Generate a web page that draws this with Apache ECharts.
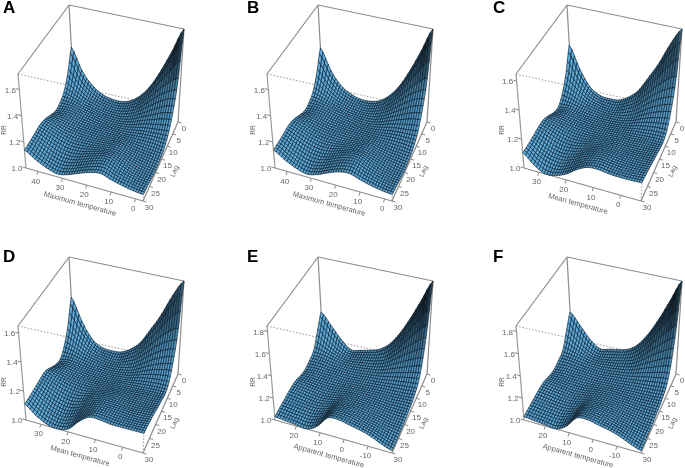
<!DOCTYPE html>
<html><head><meta charset="utf-8">
<style>html,body{margin:0;background:#fff}#c{width:685px;height:468px;filter:blur(0.45px)}</style>
<script src="https://cdn.jsdelivr.net/npm/echarts@6/dist/echarts.min.js"></script>
</head><body><div id="c"></div>
<script>
// Surface heights: one row per lag (0,3,...,30), columns from hottest to coldest edge.
const lags=[0,3,6,9,12,15,18,21,24,27,30];
const lagTicks=[0,5,10,15,20,25,30];
const rrA=[
[1.375,1.20,1.105,1.055,1.037,1.038,1.065,1.125,1.22,1.36,1.53,1.72],
[1.23,1.14,1.08,1.05,1.035,1.03,1.05,1.09,1.16,1.24,1.31,1.36],
[1.13,1.10,1.07,1.05,1.035,1.03,1.035,1.06,1.10,1.14,1.18,1.20],
[1.09,1.09,1.075,1.06,1.045,1.035,1.035,1.045,1.065,1.08,1.09,1.10],
[1.08,1.09,1.08,1.065,1.055,1.05,1.045,1.045,1.05,1.055,1.055,1.05],
[1.105,1.10,1.085,1.07,1.065,1.06,1.06,1.06,1.05,1.04,1.035,1.03],
[1.135,1.115,1.09,1.075,1.07,1.07,1.075,1.08,1.06,1.04,1.03,1.02],
[1.15,1.12,1.09,1.07,1.07,1.08,1.09,1.095,1.075,1.05,1.03,1.02],
[1.145,1.11,1.075,1.055,1.06,1.085,1.11,1.12,1.09,1.06,1.04,1.03],
[1.14,1.095,1.055,1.035,1.05,1.08,1.11,1.125,1.095,1.07,1.05,1.04],
[1.137,1.085,1.045,1.022,1.04,1.072,1.10,1.115,1.09,1.07,1.055,1.047]];
const rrB=[
[1.37,1.20,1.10,1.055,1.035,1.04,1.065,1.125,1.22,1.36,1.53,1.72],
[1.23,1.14,1.08,1.05,1.035,1.03,1.05,1.09,1.16,1.24,1.31,1.36],
[1.13,1.10,1.07,1.05,1.035,1.03,1.035,1.06,1.10,1.14,1.18,1.20],
[1.09,1.09,1.075,1.06,1.045,1.035,1.035,1.045,1.065,1.08,1.09,1.10],
[1.08,1.09,1.08,1.065,1.055,1.05,1.045,1.045,1.05,1.055,1.055,1.05],
[1.105,1.10,1.085,1.07,1.065,1.06,1.06,1.06,1.05,1.04,1.035,1.03],
[1.135,1.115,1.09,1.075,1.07,1.07,1.075,1.08,1.06,1.04,1.03,1.02],
[1.15,1.12,1.09,1.07,1.07,1.085,1.095,1.095,1.075,1.05,1.03,1.02],
[1.145,1.11,1.075,1.055,1.06,1.09,1.115,1.12,1.09,1.06,1.04,1.03],
[1.14,1.095,1.055,1.035,1.05,1.085,1.115,1.125,1.095,1.07,1.05,1.04],
[1.137,1.085,1.045,1.022,1.04,1.075,1.105,1.115,1.09,1.07,1.055,1.047]];
const rrC=[
[1.354,1.19,1.08,1.04,1.035,1.045,1.085,1.15,1.26,1.38,1.53,1.65],
[1.20,1.13,1.07,1.04,1.03,1.03,1.06,1.10,1.17,1.24,1.30,1.34],
[1.10,1.08,1.055,1.04,1.03,1.03,1.04,1.06,1.10,1.14,1.17,1.19],
[1.05,1.06,1.05,1.04,1.035,1.035,1.04,1.05,1.07,1.085,1.095,1.10],
[1.06,1.07,1.06,1.05,1.045,1.045,1.05,1.055,1.06,1.065,1.07,1.07],
[1.09,1.085,1.07,1.06,1.055,1.055,1.06,1.065,1.065,1.07,1.07,1.075],
[1.115,1.095,1.075,1.06,1.06,1.07,1.075,1.08,1.075,1.075,1.08,1.085],
[1.117,1.09,1.06,1.05,1.06,1.08,1.095,1.095,1.09,1.09,1.09,1.095],
[1.11,1.07,1.04,1.035,1.055,1.09,1.11,1.115,1.105,1.10,1.10,1.105],
[1.105,1.055,1.025,1.02,1.05,1.09,1.12,1.125,1.115,1.11,1.11,1.115],
[1.105,1.04,1.0,1.01,1.04,1.09,1.125,1.13,1.12,1.117,1.117,1.12]];
const rrD=[
[1.354,1.19,1.08,1.04,1.035,1.045,1.085,1.15,1.26,1.38,1.53,1.65],
[1.20,1.13,1.07,1.04,1.03,1.03,1.06,1.10,1.17,1.24,1.30,1.34],
[1.10,1.08,1.055,1.04,1.03,1.03,1.04,1.06,1.10,1.14,1.17,1.19],
[1.05,1.06,1.05,1.04,1.035,1.035,1.04,1.05,1.07,1.085,1.095,1.10],
[1.06,1.07,1.06,1.05,1.045,1.045,1.05,1.055,1.06,1.065,1.07,1.07],
[1.09,1.085,1.07,1.06,1.055,1.06,1.065,1.07,1.07,1.075,1.075,1.08],
[1.12,1.095,1.075,1.06,1.06,1.075,1.085,1.09,1.085,1.085,1.085,1.09],
[1.12,1.09,1.06,1.045,1.055,1.09,1.105,1.105,1.10,1.095,1.10,1.105],
[1.115,1.075,1.04,1.025,1.045,1.09,1.12,1.12,1.115,1.11,1.11,1.115],
[1.11,1.06,1.025,1.01,1.035,1.09,1.13,1.135,1.125,1.12,1.12,1.125],
[1.11,1.05,1.01,1.0,1.02,1.09,1.14,1.14,1.13,1.13,1.13,1.13]];
const rrE=[
[1.32,1.21,1.10,1.03,1.05,1.075,1.11,1.18,1.30,1.46,1.65,1.85],
[1.20,1.12,1.06,1.03,1.04,1.06,1.08,1.12,1.20,1.30,1.39,1.47],
[1.08,1.07,1.05,1.035,1.035,1.045,1.06,1.08,1.12,1.16,1.20,1.23],
[1.05,1.05,1.04,1.035,1.03,1.035,1.045,1.055,1.07,1.085,1.10,1.11],
[1.03,1.04,1.035,1.035,1.03,1.035,1.04,1.045,1.05,1.055,1.06,1.07],
[1.04,1.04,1.035,1.03,1.035,1.045,1.05,1.05,1.05,1.045,1.05,1.05],
[1.06,1.05,1.04,1.03,1.04,1.06,1.065,1.06,1.055,1.045,1.04,1.04],
[1.06,1.05,1.035,1.03,1.045,1.08,1.085,1.08,1.065,1.05,1.035,1.03],
[1.05,1.04,1.03,1.025,1.05,1.105,1.115,1.10,1.08,1.06,1.04,1.025],
[1.04,1.03,1.02,1.015,1.055,1.13,1.14,1.125,1.10,1.075,1.045,1.02],
[1.03,1.02,1.01,1.0,1.05,1.15,1.16,1.14,1.12,1.09,1.05,1.02]];
const rrF=[
[1.32,1.21,1.10,1.04,1.06,1.08,1.11,1.18,1.30,1.46,1.65,1.85],
[1.20,1.12,1.06,1.03,1.04,1.06,1.08,1.12,1.20,1.30,1.39,1.47],
[1.08,1.07,1.05,1.035,1.035,1.045,1.06,1.08,1.12,1.16,1.20,1.23],
[1.05,1.05,1.04,1.035,1.03,1.035,1.045,1.055,1.07,1.085,1.10,1.11],
[1.03,1.04,1.035,1.035,1.03,1.035,1.04,1.045,1.05,1.055,1.06,1.07],
[1.04,1.04,1.035,1.03,1.035,1.045,1.05,1.05,1.05,1.045,1.05,1.05],
[1.06,1.05,1.04,1.03,1.04,1.06,1.065,1.06,1.055,1.045,1.04,1.04],
[1.06,1.05,1.035,1.03,1.045,1.08,1.085,1.08,1.065,1.05,1.035,1.03],
[1.05,1.04,1.03,1.025,1.05,1.105,1.115,1.10,1.08,1.06,1.04,1.025],
[1.04,1.03,1.02,1.015,1.055,1.13,1.14,1.125,1.10,1.075,1.045,1.02],
[1.03,1.02,1.01,1.0,1.05,1.15,1.16,1.14,1.12,1.09,1.05,1.02]];
const tempTicksMax=[40,30,20,10,0];
const tempTicksMean=[30,20,10,0];
const tempTicksApp=[20,10,0,-10];
const rrTicksLow=[1.0,1.2,1.4,1.6];
const rrTicksHigh=[1.0,1.2,1.4,1.6,1.8];

const panels=[
 {tag:'A',rr:rrA,ox:0,oy:0,lx:3,ly:0,tmax:45,tmin:-3,ticks:tempTicksMax,zTop:1.72,zTicks:rrTicksLow,title:'Maximum temperature'},
 {tag:'B',rr:rrB,ox:249,oy:0,lx:247,ly:0,tmax:45,tmin:-3,ticks:tempTicksMax,zTop:1.72,zTicks:rrTicksLow,title:'Maximum temperature'},
 {tag:'C',rr:rrC,ox:498,oy:0,lx:493,ly:0,tmax:35.5,tmin:-7.4,ticks:tempTicksMean,zTop:1.65,zTicks:rrTicksLow,title:'Mean temperature'},
 {tag:'D',rr:rrD,ox:0,oy:252,lx:3,ly:249,tmax:35.5,tmin:-7.4,ticks:tempTicksMean,zTop:1.65,zTicks:rrTicksLow,title:'Mean temperature'},
 {tag:'E',rr:rrE,ox:249,oy:252,lx:247,ly:249,tmax:29,tmin:-20,ticks:tempTicksApp,zTop:1.85,zTicks:rrTicksHigh,title:'Apparent temperature'},
 {tag:'F',rr:rrF,ox:498,oy:252,lx:493,ly:249,tmax:29,tmin:-20,ticks:tempTicksApp,zTop:1.85,zTicks:rrTicksHigh,title:'Apparent temperature'}
];
// Camera: where the plot box corners fall inside a panel.
const ground={bl:[74,93],br:[178,122],fr:[143,201],fl:[26,168]};
const roof={bl:[69,5],br:[184,29],fr:[148,103],fl:[18,74]};
function quad(q){
  const [x0,y0]=q.bl,[x1,y1]=q.br,[x2,y2]=q.fr,[x3,y3]=q.fl;
  const dx1=x1-x2,dx2=x3-x2,sx=x0-x1+x2-x3,dy1=y1-y2,dy2=y3-y2,sy=y0-y1+y2-y3;
  const d=dx1*dy2-dx2*dy1,g=(sx*dy2-dx2*sy)/d,h=(dx1*sy-sx*dy1)/d;
  const a=x1-x0+g*x1,b=x3-x0+h*x3,c=y1-y0+g*y1,e=y3-y0+h*y3;
  return (u,v)=>{const w=g*u+h*v+1;return [(a*u+b*v+x0)/w,(c*u+e*v+y0)/w];};
}
const H0=quad(ground),H1=quad(roof);
function project(p,u,v,z){
  const w=(z-1)/(p.zTop-1),a=H0(u,v),b=H1(u,v);
  return [a[0]+(b[0]-a[0])*w,a[1]+(b[1]-a[1])*w];
}
function cr(a,b,c,d,t){return .5*(2*b+(c-a)*t+(2*a-5*b+4*c-d)*t*t+(3*b-a-3*c+d)*t*t*t);}
function sample(rr,u,v){
  const R=rr.length-1,C=rr[0].length-1,fv=v*R,fu=u*C;
  const i=Math.min(R-1,Math.floor(fv)),j=Math.min(C-1,Math.floor(fu)),tv=fv-i,tu=fu-j;
  const col=[];
  for(let k=-1;k<=2;k++){const r=rr[Math.max(0,Math.min(R,i+k))];
    col.push(cr(r[Math.max(0,j-1)],r[j],r[j+1],r[Math.min(C,j+2)],tu));}
  return Math.max(1,cr(col[0],col[1],col[2],col[3],tv));
}
const NU=46,NV=33;
const L=[0.6,-0.15,0.78];
const soft=d=>d*Math.abs(d)/(Math.abs(d)+0.25);
function shade(zs){ // zs: corners bl,br,fr,fl of a mesh cell
  const dzu=soft(((zs[1]+zs[2])-(zs[0]+zs[3]))/2*NU*0.5), dzv=soft(((zs[2]+zs[3])-(zs[0]+zs[1]))/2*NV*0.3);
  const n=Math.hypot(dzu,dzv,1);
  const i=Math.max(0,(-dzu*L[0]-dzv*L[1]+L[2])/n);
  const s=Math.min(1,0.04+i*1.2);
  return 'rgb('+Math.round(92*s)+','+Math.round(172*s)+','+Math.round(222*s)+')';
}
const series=[],grid=[],xAxis=[],yAxis=[],title=[];
const axisFont='Liberation Sans',gray='#666';
const W=186,H=216;
panels.forEach((p,idx)=>{
  grid.push({left:p.ox,top:p.oy,width:W,height:H});
  xAxis.push({type:'value',min:0,max:W,show:false,gridIndex:idx});
  yAxis.push({type:'value',min:0,max:H,inverse:true,show:false,gridIndex:idx});
  title.push({text:p.tag,left:p.lx,top:p.ly,padding:0,textStyle:{fontFamily:axisFont,fontWeight:'bold',fontSize:17,color:'#000'}});
  // frame, ticks and labels
  series.push({type:'custom',coordinateSystem:'cartesian2d',xAxisIndex:idx,yAxisIndex:idx,silent:true,animation:false,z:1,clip:false,
    data:[[0,0]],
    renderItem(params,api){
      const c=q=>api.coord(q),kids=[];
      const line=(a,b,w,col,dash)=>{const A=c(a),B=c(b);kids.push({type:'line',shape:{x1:A[0],y1:A[1],x2:B[0],y2:B[1]},style:{stroke:col,lineWidth:w,lineDash:dash||null}});};
      const text=(s,at,size,rot)=>{const A=c(at);kids.push({type:'text',x:A[0],y:A[1],rotation:rot||0,style:{text:s,x:0,y:0,align:'center',verticalAlign:'middle',fill:gray,fontSize:size,fontFamily:axisFont}});};
      const dots=[1.5,1.8];
      line(roof.fl,roof.fr,1,'#999',dots);line(roof.fr,roof.br,1,'#999',dots);line(ground.fr,roof.fr,1,'#999',dots);
      line(ground.bl,roof.bl,1.2,'#8c8c8c');
      line(ground.fl,ground.fr,1.2,'#8c8c8c');line(ground.fr,ground.br,1.2,'#8c8c8c');
      line(ground.fl,roof.fl,1.2,'#999');line(ground.br,roof.br,1.2,'#8c8c8c');
      line(roof.fl,roof.bl,1.2,'#8c8c8c');line(roof.bl,roof.br,1.2,'#8c8c8c');
      p.ticks.forEach(t=>{
        const u=(p.tmax-t)/(p.tmax-p.tmin),a=H0(u,1);
        line(a,[a[0]-1.2,a[1]+3.5],1,'#888');
        text(String(t),[a[0]-2.5,a[1]+10],8);
      });
      text(p.title,[80,204],7.5,-0.27);
      lagTicks.forEach(l=>{
        const a=H0(1,l/30);
        line(a,[a[0]+3.5,a[1]+1],1,'#888');
        text(String(l),[a[0]+6,a[1]+7],8);
      });
      const ml=H0(1,0.64);
      text('Lag',[ml[0]+18,ml[1]+1],7,1.15);
      p.zTicks.forEach(z=>{
        const a=project(p,0,1,z);
        line(a,[a[0]-3.5,a[1]-1],1,'#888');
        text(z.toFixed(1),[a[0]-9,a[1]+1],8);
      });
      text('RR',[4,130],6.5,Math.PI/2);
      return {type:'group',children:kids};
    }});
  // surface, painted from the back row to the front row
  const cells=[];
  for(let iv=0;iv<NV;iv++)for(let iu=0;iu<NU;iu++)cells.push([iu,iv]);
  series.push({type:'custom',coordinateSystem:'cartesian2d',xAxisIndex:idx,yAxisIndex:idx,silent:true,animation:false,z:2,clip:false,progressive:0,
    data:cells,
    renderItem(params,api){
      const iu=api.value(0),iv=api.value(1);
      const us=[iu/NU,(iu+1)/NU,(iu+1)/NU,iu/NU],vs=[iv/NV,iv/NV,(iv+1)/NV,(iv+1)/NV];
      const zs=us.map((u,k)=>sample(p.rr,u,vs[k]));
      const pts=us.map((u,k)=>api.coord(project(p,u,vs[k],zs[k])));
      return {type:'polygon',shape:{points:pts},style:{fill:shade(zs),stroke:'rgba(8,22,34,0.85)',lineWidth:0.7}};
    }});
});
const chart=echarts.init(document.getElementById('c'),null,{renderer:'canvas'});
chart.setOption({animation:false,backgroundColor:'#fff',grid,xAxis,yAxis,title,series});
</script></body></html>
